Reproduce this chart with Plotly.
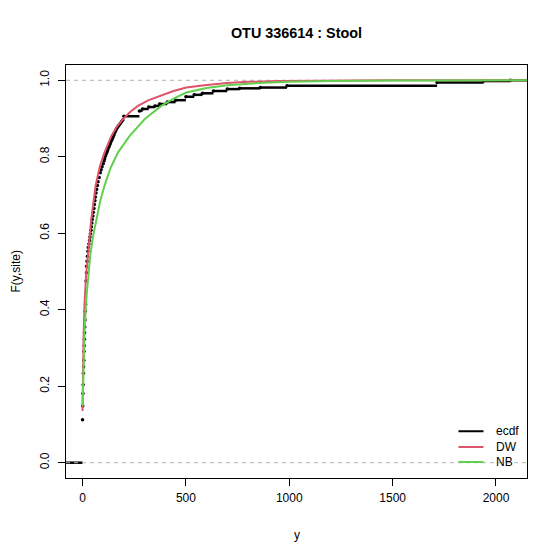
import plotly.graph_objects as go

# --- data ---
# empirical cdf: jump locations and F value after each jump
ecdf_x = [0, 1, 2, 3, 4, 5, 6, 7, 8, 9, 10, 11, 12, 13, 15, 17, 19, 20, 22, 24,
          26, 28, 31, 34, 36, 38, 41, 43, 45, 47, 50, 52, 55, 57, 60, 62, 65, 68,
          72, 75, 80, 86, 90, 94, 100, 104, 107, 111, 115, 119, 122, 126, 130, 134,
          138, 143, 147, 151, 155, 159, 163, 168, 172, 178, 183, 189, 195, 200,
          275, 290, 320, 350, 373, 410, 450, 500, 540, 580, 633, 700, 760, 860,
          989, 1715, 1940, 2070]
ecdf_F = [0.112, 0.148, 0.181, 0.204, 0.234, 0.251, 0.268, 0.291, 0.306, 0.323,
          0.340, 0.355, 0.373, 0.396, 0.414, 0.475, 0.497, 0.514, 0.527, 0.540,
          0.553, 0.563, 0.572, 0.581, 0.590, 0.599, 0.608, 0.617, 0.627, 0.636,
          0.645, 0.655, 0.665, 0.675, 0.685, 0.695, 0.705, 0.715, 0.725, 0.735,
          0.746, 0.758, 0.766, 0.774, 0.782, 0.789, 0.795, 0.802, 0.808, 0.813,
          0.818, 0.824, 0.829, 0.834, 0.840, 0.845, 0.851, 0.856, 0.862, 0.867,
          0.872, 0.876, 0.880, 0.884, 0.888, 0.892, 0.896, 0.906,
          0.920, 0.925, 0.930, 0.933, 0.938, 0.943, 0.948, 0.957, 0.962, 0.966,
          0.972, 0.977, 0.979, 0.981, 0.986, 0.994, 0.998, 1.0]

# fitted DW cdf
dw_x = [0, 2, 5, 10, 17, 26, 42, 63, 84, 106, 139, 165, 195, 230, 268, 320, 373,
        440, 502, 600, 700, 800, 950, 1150, 1500, 2150]
dw_F = [0.135, 0.23, 0.33, 0.42, 0.49, 0.54, 0.636, 0.724, 0.775, 0.811, 0.854,
        0.878, 0.898, 0.917, 0.933, 0.948, 0.959, 0.972, 0.981, 0.988, 0.993,
        0.996, 0.998, 0.9993, 0.9998, 1.0]

# fitted NB cdf
nb_x = [0, 2, 5, 10, 20, 37, 50, 66, 85, 106, 135, 171, 227, 300, 381, 440, 502,
        600, 700, 850, 1000, 1200, 1500, 2150]
nb_F = [0.148, 0.2, 0.27, 0.35, 0.44, 0.54, 0.59, 0.636, 0.683, 0.724, 0.77, 0.811,
        0.854, 0.898, 0.933, 0.952, 0.968, 0.98, 0.987, 0.993, 0.996, 0.998,
        0.9995, 1.0]

legend_names = ["ecdf", "DW", "NB"]

x_range = [-80, 2150]
y_range = [-0.04, 1.04]

FONT = "Liberation Sans, Arial, Helvetica, sans-serif"
RED = "#DF536B"
GREEN = "#61D04F"
GREY = "#B3B3B3"
colors = ["black", RED, GREEN]

# horizontal step segments (no verticals), like R's plot.ecdf
seg_x, seg_y = [x_range[0], ecdf_x[0], None], [0, 0, None]
for i, xv in enumerate(ecdf_x):
    x_end = ecdf_x[i + 1] if i + 1 < len(ecdf_x) else x_range[1]
    seg_x += [xv, x_end, None]
    seg_y += [ecdf_F[i], ecdf_F[i], None]

fig = go.Figure()

fig.add_trace(go.Scatter(x=seg_x, y=seg_y, mode="lines", name="ecdf",
                         line=dict(color="black", width=2.5)))
fig.add_trace(go.Scatter(x=ecdf_x, y=ecdf_F, mode="markers",
                         marker=dict(color="black", size=3.5)))

# dashed reference lines at 0 and 1
for level in [0, 1]:
    fig.add_trace(go.Scatter(x=x_range, y=[level, level], mode="lines",
                             line=dict(color=GREY, width=1, dash="4px,4px")))

fig.add_trace(go.Scatter(x=dw_x, y=dw_F, mode="lines", name="DW",
                         line=dict(color=RED, width=2)))
fig.add_trace(go.Scatter(x=nb_x, y=nb_F, mode="lines", name="NB",
                         line=dict(color=GREEN, width=2)))

axis_common = dict(showgrid=False, zeroline=False, showline=True, mirror=True,
                   linecolor="black", linewidth=1, ticks="outside", ticklen=7,
                   tickcolor="black", tickfont=dict(family=FONT, size=12, color="black"))

fig.update_xaxes(range=x_range, tickvals=[0, 500, 1000, 1500, 2000],
                 ticklabelstandoff=2, **axis_common)
fig.update_yaxes(range=y_range, tickvals=[0, 0.2, 0.4, 0.6, 0.8, 1.0],
                 ticktext=["0.0", "0.2", "0.4", "0.6", "0.8", "1.0"], tickangle=-90,
                 ticklabelstandoff=4, **axis_common)

# axis titles + legend drawn like R's legend(bty="n") in the bottom right corner
annotations = [
    dict(text="y", x=0.5, xref="paper", y=(478 - 535) / 413, yref="paper",
         yanchor="middle", showarrow=False, font=dict(family=FONT, size=12)),
    dict(text="F(y,site)", x=(7 - 58) / 461, xref="paper", xanchor="center",
         y=0.5, yref="paper", textangle=-90, showarrow=False,
         font=dict(family=FONT, size=12)),
]
shapes = []
legend_rows = [0.1132, 0.0751, 0.0388]
for name, col, ly in zip(legend_names, colors, legend_rows):
    shapes.append(dict(type="line", xref="paper", yref="paper", x0=0.8513, x1=0.9056,
                       y0=ly, y1=ly, line=dict(color=col, width=2)))
    annotations.append(dict(text=name, x=0.9317, xref="paper", xanchor="left",
                            y=ly, yref="paper", yanchor="middle", showarrow=False,
                            xshift=-2, font=dict(family=FONT, size=12)))

fig.update_layout(
    width=560, height=560,
    margin=dict(l=58, r=41, t=57, b=90),
    showlegend=False,
    plot_bgcolor="white", paper_bgcolor="white",
    font=dict(family=FONT, size=12, color="black"),
    title=dict(text="<b>OTU 336614 : Stool</b>", x=0.5, xref="paper",
               y=1 - 25 / 560, yref="container", yanchor="middle",
               font=dict(family=FONT, size=14.4, color="black")),
    shapes=shapes,
    annotations=annotations,
)

fig.write_html("out.html")
